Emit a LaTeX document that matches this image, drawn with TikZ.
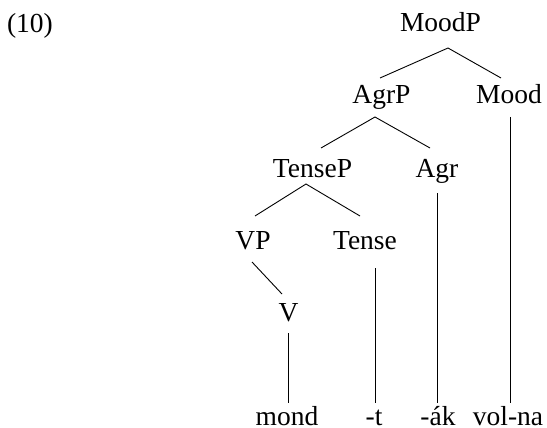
\documentclass[tikz,border=0pt]{standalone}
\usepackage{fontspec}
\setmainfont{Liberation Serif}
\begin{document}
\begin{tikzpicture}[x=1pt,y=1pt,
  lab/.style={anchor=base,inner sep=0pt,font=\fontsize{27.5}{30}\selectfont},
  branch/.style={line width=0.9pt}]
\useasboundingbox (0,0) rectangle (547,-428);
% example number
\node[lab] (num) at (30,-33) {(10)};
% tree labels
\node[lab] (moodp) at (440.5,-32) {MoodP};
\node[lab] (agrp)  at (381.5,-104) {AgrP};
\node[lab] (mood)  at (509,-104) {Mood};
\node[lab] (tensep) at (312.5,-177) {TenseP};
\node[lab] (agr)   at (437,-177) {Agr};
\node[lab] (vp)    at (253,-249) {VP};
\node[lab] (tense) at (365,-249) {Tense};
\node[lab] (v)     at (288.5,-321) {V};
% morphemes
\node[lab] (mond)  at (287,-425.5) {mond};
\node[lab] (t)     at (374,-425.5) {-t};
\node[lab] (ak)    at (438,-425.5) {-ák};
\node[lab] (volna) at (508,-425.5) {vol-na};
% branches
\draw[branch] ([shift={(-1.5,26)}]agrp.base) -- ([shift={(7.5,-16)}]moodp.base) -- ([shift={(-8,26)}]mood.base);
\draw[branch] ([shift={(8.5,29)}]tensep.base) -- ([shift={(-6.5,-13)}]agrp.base) -- ([shift={(-7,29)}]agr.base);
\draw[branch] ([shift={(2,33)}]vp.base) -- ([shift={(-6.5,-7)}]tensep.base) -- ([shift={(-5,33)}]tense.base);
\draw[branch] ([shift={(-1,-13)}]vp.base) -- ([shift={(-6.5,27)}]v.base);
% vertical lines down to the morphemes
\draw[branch] ([shift={(0,-12)}]v.base) -- ([shift={(1.5,22.5)}]mond.base);
\draw[branch] ([shift={(10,-19)}]tense.base) -- ([shift={(1,22.5)}]t.base);
\draw[branch] ([shift={(0.5,-16)}]agr.base) -- ([shift={(-0.5,22.5)}]ak.base);
\draw[branch] ([shift={(1,-13)}]mood.base) -- ([shift={(2,22.5)}]volna.base);
\end{tikzpicture}
\end{document}
